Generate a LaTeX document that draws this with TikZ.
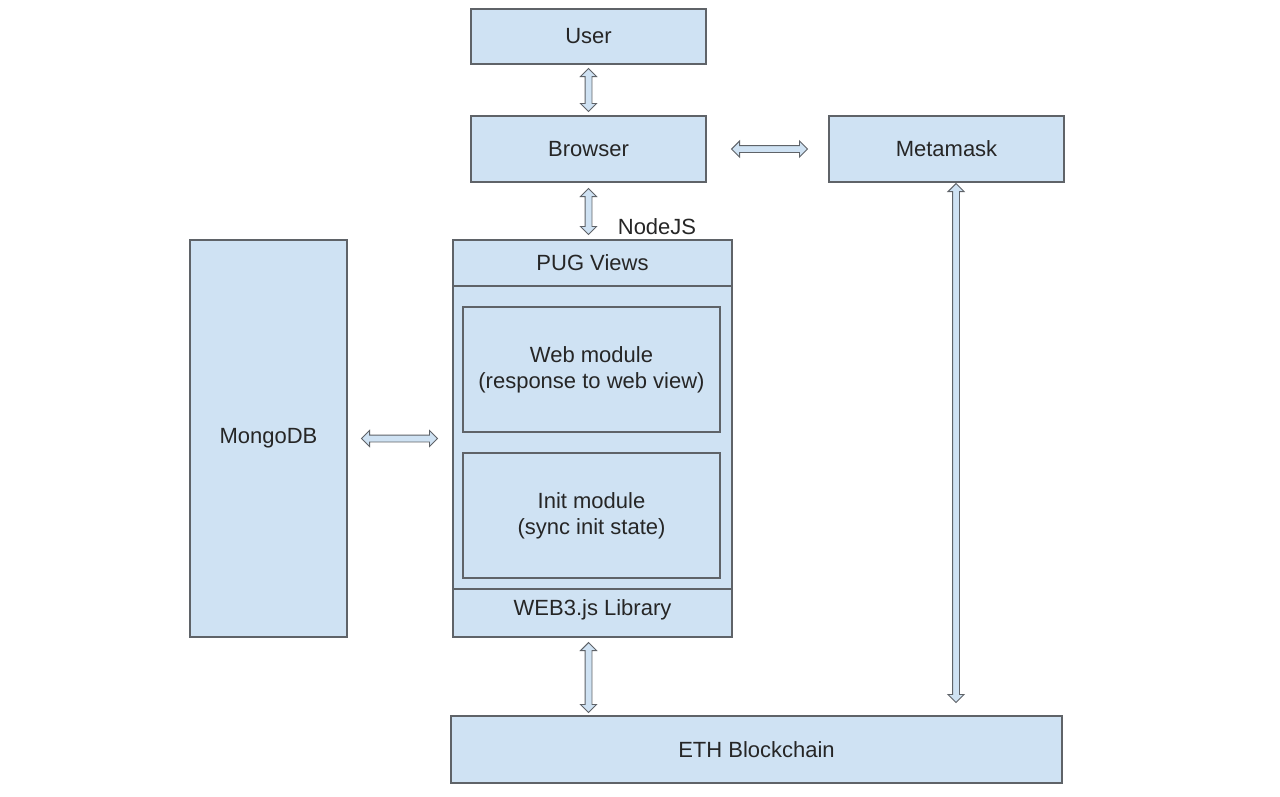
\documentclass[tikz,border=0pt]{standalone}
\usepackage{fontspec}
\setmainfont{Liberation Sans}
\usetikzlibrary{shapes.arrows,calc}
\definecolor{boxblue}{HTML}{CFE2F3}
\definecolor{bordergray}{HTML}{5F6368}
\definecolor{txtgray}{HTML}{262626}
\newcommand\fs{\fontsize{22}{26}\selectfont}
\newcommand\dblconn[3]{%
  \path let \p1=#1, \p2=#2, \n1={veclen(\x2-\x1,\y2-\y1)}, \n2={atan2(\y2-\y1,\x2-\x1)} in
    node[dblarr, minimum height=\n1, rotate=\n2] (#3) at ($#1!0.5!#2$) {};}
\begin{document}
\begin{tikzpicture}[x=1pt,y=1pt,
  box/.style={draw=bordergray, fill=boxblue, line width=1.2pt, inner sep=0pt, align=center, font=\fs, text=txtgray},
  lbl/.style={font=\fs, text=txtgray, align=center, inner sep=0pt},
  dblarr/.style={double arrow, draw=bordergray, fill=boxblue, line width=0.9pt, inner sep=3pt,
    minimum width=15pt, double arrow head extend=4.5pt, double arrow head indent=0pt, double arrow tip angle=90}]
\useasboundingbox (0,0) rectangle (1280,-796);
\fill[white] (0,0) rectangle (1280,-796);

\node[box, minimum width=235pt, minimum height=55pt] (user) at (588.5,-36.5) {User};
\node[box, minimum width=235pt, minimum height=66pt] (browser) at (588.5,-149) {Browser};
\node[box, minimum width=235pt, minimum height=66pt] (metamask) at (946.5,-149) {Metamask};
\node[box, minimum width=157pt, minimum height=397pt] (mongo) at (268.5,-438.5) {MongoDB};
\node[box, minimum width=279pt, minimum height=397pt] (nodejs) at (592.5,-438.5) {};
\node[lbl, anchor=base] (nodejslbl) at (657,-234) {NodeJS};
\coordinate (d1) at (0,-286);
\coordinate (d2) at (0,-589);
\draw[bordergray, line width=1.2pt] (nodejs.west |- d1) -- (nodejs.east |- d1);
\draw[bordergray, line width=1.2pt] (nodejs.west |- d2) -- (nodejs.east |- d2);
\node[lbl] (pug) at (592.5,-263) {PUG Views};
\node[box, minimum width=257pt, minimum height=125pt] (web) at (591.5,-369.5) {Web module\\(response to web view)};
\node[box, minimum width=257pt, minimum height=125pt] (init) at (591.5,-515.5) {Init module\\(sync init state)};
\node[lbl] (web3) at (592.5,-610) {WEB3.js Library};
\node[box, minimum width=611pt, minimum height=67pt] (eth) at (756.5,-749.5) {ETH Blockchain};

\dblconn{($(user.south)+(0,-4)$)}{($(browser.north)+(0,4)$)}{a1}
\dblconn{($(browser.south)+(0,-6)$)}{($(browser.south |- nodejs.north)+(0,5)$)}{a2}
\dblconn{($(browser.east)+(25,0)$)}{($(metamask.west)+(-21,0)$)}{a3}
\dblconn{($(mongo.east)+(14,0)$)}{($(nodejs.west)+(-15,0)$)}{a4}
\dblconn{($(browser.south |- nodejs.south)+(0,-5)$)}{($(browser.south |- eth.north)+(0,3)$)}{a5}
\dblconn{($(metamask.south)+(9.5,-1)$)}{($(metamask.south |- eth.north)+(9.5,13)$)}{a6}
\end{tikzpicture}
\end{document}
